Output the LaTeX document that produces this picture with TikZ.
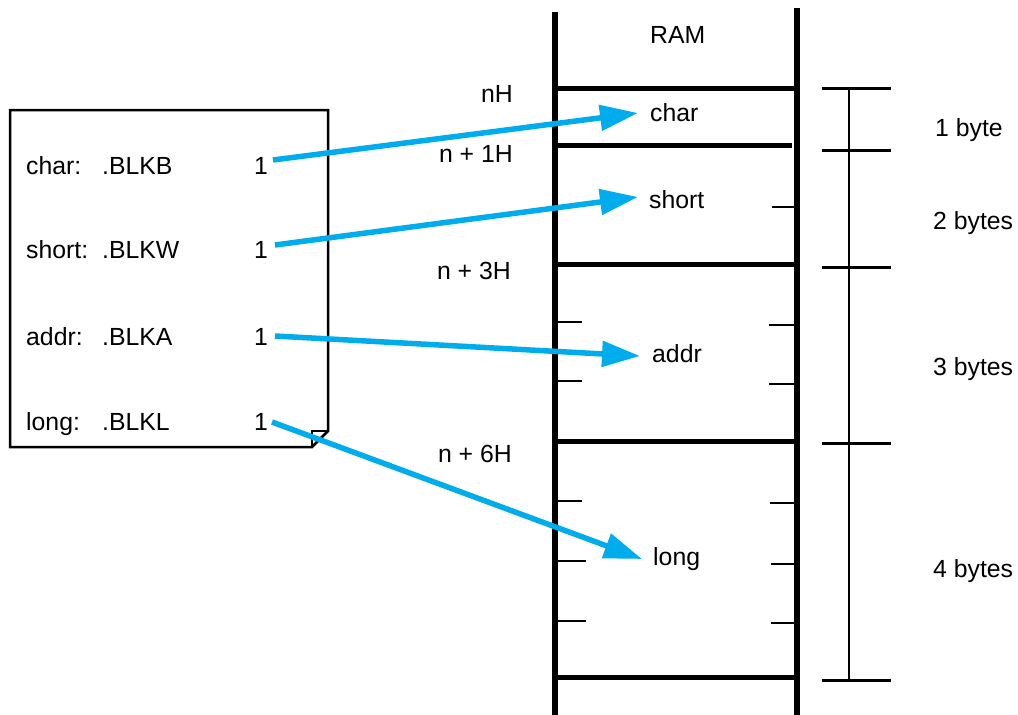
\documentclass[tikz,border=0pt]{standalone}
\usepackage{fontspec}
\setmainfont{Liberation Sans}
\usetikzlibrary{arrows.meta}
\definecolor{arrowblue}{RGB}{0,172,236}
\begin{document}
\begin{tikzpicture}[x=1pt,y=-1pt,
  txt/.style={inner sep=0pt,font=\fontsize{24.8}{29}\selectfont},
  lbl/.style={txt,anchor=base west},
  lblr/.style={txt,anchor=base east},
  boxline/.style={line width=2.5pt,line join=miter},
  ramwall/.style={line width=6pt},
  ramrow/.style={line width=5pt},
  tick/.style={line width=2pt},
  scaletick/.style={line width=3pt},
  scaleline/.style={line width=2.2pt},
  arr/.style={arrowblue,line width=5.5pt,-{Triangle[length=38pt,width=25pt]}}]
\useasboundingbox (0,0) rectangle (1018,715);
% left listing box with folded corner
\draw[boxline] (10,110) -- (328,110) -- (328,431) -- (312,447) -- (10,447) -- cycle;
\draw[line width=2pt] (312,447) -- (312,431) -- (328,431);
\node[lbl] (k1) at (26,174) {char:};
\node[lbl] (d1) at (102,174) {.BLKB};
\node[lblr] (o1) at (268,174) {1};
\node[lbl] (k2) at (26,258) {short:};
\node[lbl] (d2) at (102,258) {.BLKW};
\node[lblr] (o2) at (268,258) {1};
\node[lbl] (k3) at (26,345) {addr:};
\node[lbl] (d3) at (102,345) {.BLKA};
\node[lblr] (o3) at (268,345) {1};
\node[lbl] (k4) at (26,430) {long:};
\node[lbl] (d4) at (102,430) {.BLKL};
\node[lblr] (o4) at (268,430) {1};
% RAM column
\draw[ramwall] (555,12) -- (555,715);
\draw[ramwall] (797,8) -- (797,715);
\draw[ramrow] (555,88) -- (797,88);
\draw[ramrow] (555,145) -- (792,145);
\draw[ramrow] (555,264) -- (797,264);
\draw[ramrow] (555,441) -- (797,441);
\draw[ramrow] (555,677) -- (797,677);
% byte ticks inside RAM
\draw[tick] (772,207) -- (797,207);
\draw[tick] (555,322) -- (582,322);
\draw[tick] (555,381) -- (582,381);
\draw[tick] (769,325) -- (797,325);
\draw[tick] (769,384) -- (797,384);
\draw[tick] (555,501) -- (582,501);
\draw[tick] (555,561) -- (586,561);
\draw[tick] (555,621) -- (586,621);
\draw[tick] (770,503) -- (797,503);
\draw[tick] (771,564) -- (797,564);
\draw[tick] (771,623) -- (797,623);
\node[lbl] (ram) at (650,43) {RAM};
\node[lbl] (rc) at (650,121) {char};
\node[lbl] (rs) at (649,208) {short};
\node[lbl] (ra) at (652,362) {addr};
\node[lbl] (rl) at (653,565) {long};
% addresses
\node[lblr] (a0) at (513,102) {nH};
\node[lblr] (a1) at (513,162) {n + 1H};
\node[lblr] (a3) at (511,279) {n + 3H};
\node[lblr] (a6) at (512,462) {n + 6H};
% size scale
\draw[scaleline] (849,88) -- (849,680);
\draw[scaletick] (822,88) -- (891,88);
\draw[scaletick] (822,150) -- (891,150);
\draw[scaletick] (822,267) -- (891,267);
\draw[scaletick] (822,443) -- (891,443);
\draw[scaletick] (822,680) -- (891,680);
\node[lbl] (b1) at (935,136) {1 byte};
\node[lbl] (b2) at (933,229) {2 bytes};
\node[lbl] (b3) at (933,375) {3 bytes};
\node[lbl] (b4) at (933,577) {4 bytes};
% arrows
\draw[arr] ([shift={(5,-14)}]o1.base east) -- ([shift={(-12,-8)}]rc.base west);
\draw[arr] ([shift={(7,-13)}]o2.base east) -- ([shift={(-11,-11)}]rs.base west);
\draw[arr] ([shift={(7,-9)}]o3.base east) -- ([shift={(-12,-6)}]ra.base west);
\draw[arr] ([shift={(4,-8)}]o4.base east) -- ([shift={(-11,-6)}]rl.base west);
\end{tikzpicture}
\end{document}
